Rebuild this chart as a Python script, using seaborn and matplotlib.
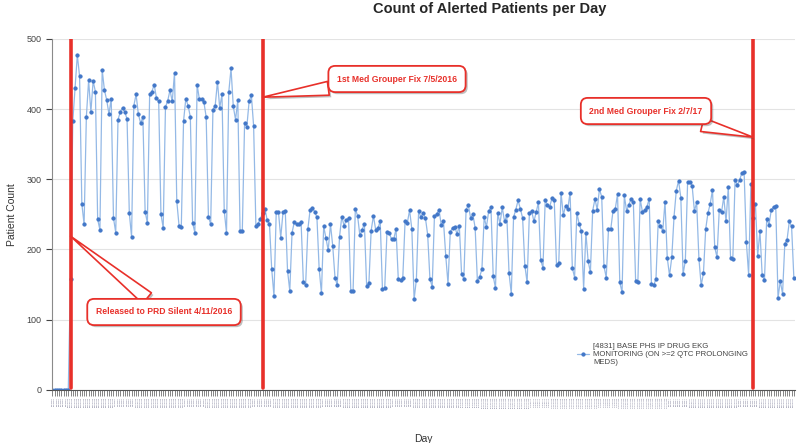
import matplotlib
matplotlib.use("Agg")
import matplotlib.pyplot as plt
import matplotlib.dates as mdates
import matplotlib.patheffects as pe
import pandas as pd
import seaborn as sns

# daily counts
start_day = "2016-04-03"
before_release = [0, 0, 0, 0, 0, 0, 0, 0]
# 4/11/2016 - 7/4/2016
silent_period = [
    158,
    383, 430, 477, 447, 265, 236,
    389, 441, 396, 440, 425, 243, 228,
    456, 427, 413, 393, 415, 245, 224,
    385, 396, 402, 396, 386, 252, 218,
    405, 421, 393, 380, 389, 254, 238,
    421, 425, 435, 416, 411, 250, 231,
    403, 412, 427, 411, 452, 269, 234,
    232, 383, 415, 405, 389, 238, 224,
    435, 414, 414, 410, 389, 247, 236,
    399, 405, 439, 402, 421, 255, 224,
    424, 458, 404, 385, 413, 227, 227,
    380, 375, 411, 420, 376, 234, 237,
    244,
]
# 7/5/2016 - 2/6/2017
after_fix1 = [
    252, 258, 242, 237, 172, 134,
    253, 253, 217, 253, 255, 170, 141,
    224, 239, 236, 236, 239, 154, 149,
    229, 257, 259, 254, 246, 172, 138,
    233, 216, 199, 236, 205, 160, 149,
    218, 247, 234, 242, 245, 141, 141,
    258, 248, 220, 228, 237, 148, 152,
    227, 248, 228, 230, 241, 143, 145,
    225, 223, 215, 215, 229, 158, 156,
    160, 240, 238, 256, 229, 129, 157,
    255, 246, 252, 245, 221, 158, 147,
    248, 250, 257, 235, 240, 191, 151,
    225, 231, 232, 222, 234, 165, 158,
    257, 263, 245, 250, 231, 155, 161,
    172, 246, 232, 255, 260, 162, 145,
    252, 237, 260, 240, 249, 166, 137,
    246, 257, 270, 258, 245, 177, 153,
    252, 255, 240, 253, 267, 185, 174,
    270, 264, 261, 273, 270, 178, 181,
    281, 249, 262, 258, 281, 174, 160,
    252, 237, 226, 144, 224, 183, 168,
    255, 272, 257, 286, 275, 176, 160,
    229, 229, 255, 258, 279, 153, 139,
    277, 255, 264, 272, 267, 155, 154,
    272, 254, 256, 261, 272, 151, 149,
    158, 240, 234, 226, 268, 188, 163,
    189, 247, 284, 298, 274, 165, 184,
    296, 296, 291, 255, 267, 187, 149,
    166, 229, 252, 265, 285, 203, 189,
    256, 253, 275, 240, 289, 188, 186,
    299, 292, 299, 309, 310, 210, 164,
    294,
]
# 2/7/2017 - 2/25/2017
after_fix2 = [
    245, 265, 191, 226, 163, 156,
    244, 235, 256, 261, 262, 131, 155,
    137, 208, 214, 240, 233, 160,
]

event_dates = ["2016-04-11", "2016-07-05", "2017-02-07"]
event_labels = ["Released to PRD Silent 4/11/2016",
                "1st Med Grouper Fix 7/5/2016",
                "2nd Med Grouper Fix 2/7/17"]
event_tip_y = [219, 417, 360]
# callout box centres in figure pixels
callout_xy = [(164, 131), (397, 364), (646, 332)]

series_name = "[4831] BASE PHS IP DRUG EKG\nMONITORING (ON >=2 QTC PROLONGING\nMEDS)"

counts = before_release + silent_period + after_fix1 + after_fix2
days = pd.date_range(start_day, periods=len(counts), freq="D")
df = pd.DataFrame({"Day": days, "Patient Count": counts})

sns.set_style("white")
plt.rcParams["font.family"] = ["Liberation Sans", "DejaVu Sans"]

red = "#e8302a"
fig = plt.figure(figsize=(8, 4.43), dpi=100)
ax = fig.add_axes([0.065, 0.12, 0.929, 0.792])

sns.lineplot(data=df, x="Day", y="Patient Count", ax=ax, color="#94b9e6",
             linewidth=0.9, marker="o", markersize=2.3,
             markerfacecolor="#4277c8", markeredgecolor="#4277c8",
             label=series_name)

ax.set_ylim(0, 500)
ax.set_yticks([0, 100, 200, 300, 400, 500])
ax.set_xlim(mdates.date2num(days[0]) - 0.2, mdates.date2num(days[-1]) + 0.6)
ax.grid(axis="y", color="#e3e3e3", linewidth=0.8)
ax.set_axisbelow(True)

for s in ["top", "right"]:
    ax.spines[s].set_visible(False)
ax.spines["left"].set_color("#8a8a8a")
ax.spines["bottom"].set_color("#555555")

ax.tick_params(axis="y", labelsize=6.5, colors="#444444", length=4,
               width=0.8, left=True)
ax.set_xticks(mdates.date2num(days))
ax.set_xticklabels([f"{d.month}/{d.day}/{d.year}" for d in days],
                   rotation=90, fontsize=1.6, color="#6a6a88")
ax.tick_params(axis="x", length=4, width=0.5, color="#555555", pad=1,
               bottom=True)

ax.set_xlabel("Day", fontsize=7.5, color="#333333")
ax.xaxis.set_label_coords(0.5, -0.125)
ax.set_ylabel("Patient Count", fontsize=7.5, color="#333333", labelpad=7)

fig.text(490 / 800, 1 - 9 / 443, "Count of Alerted Patients per Day",
         ha="center", va="center", fontsize=10.5, fontweight="bold")

for d in event_dates:
    ax.axvline(mdates.date2num(pd.Timestamp(d)), ymin=0.005, ymax=1,
               color=red, linewidth=2.6, zorder=5)

shadow = [pe.SimplePatchShadow(offset=(1.5, -1.5), alpha=0.35), pe.Normal()]
for d, lab, ty, (bx, by) in zip(event_dates, event_labels, event_tip_y, callout_xy):
    ann = ax.annotate(
        lab, xy=(mdates.date2num(pd.Timestamp(d)), ty), xycoords="data",
        xytext=(bx, by), textcoords="figure pixels",
        ha="center", va="center", fontsize=6.2, fontweight="bold", color=red,
        bbox=dict(boxstyle="round,pad=1.0,rounding_size=0.8", fc="white",
                  ec=red, lw=1.3),
        arrowprops=dict(arrowstyle="wedge,tail_width=1.0,shrink_factor=0.5",
                        mutation_scale=10, fc="white", ec=red, lw=1.2,
                        shrinkA=0, shrinkB=0),
        zorder=6)
    ann.get_bbox_patch().set_path_effects(shadow)
    ann.arrow_patch.set_path_effects(shadow)

leg = ax.legend(loc="lower left", bbox_to_anchor=(570 / 800, 70 / 443),
                bbox_transform=fig.transFigure, frameon=False, fontsize=5.6,
                handlelength=1.6, handletextpad=0.5, labelcolor="#444444")

fig.savefig("out.png", dpi=100)
